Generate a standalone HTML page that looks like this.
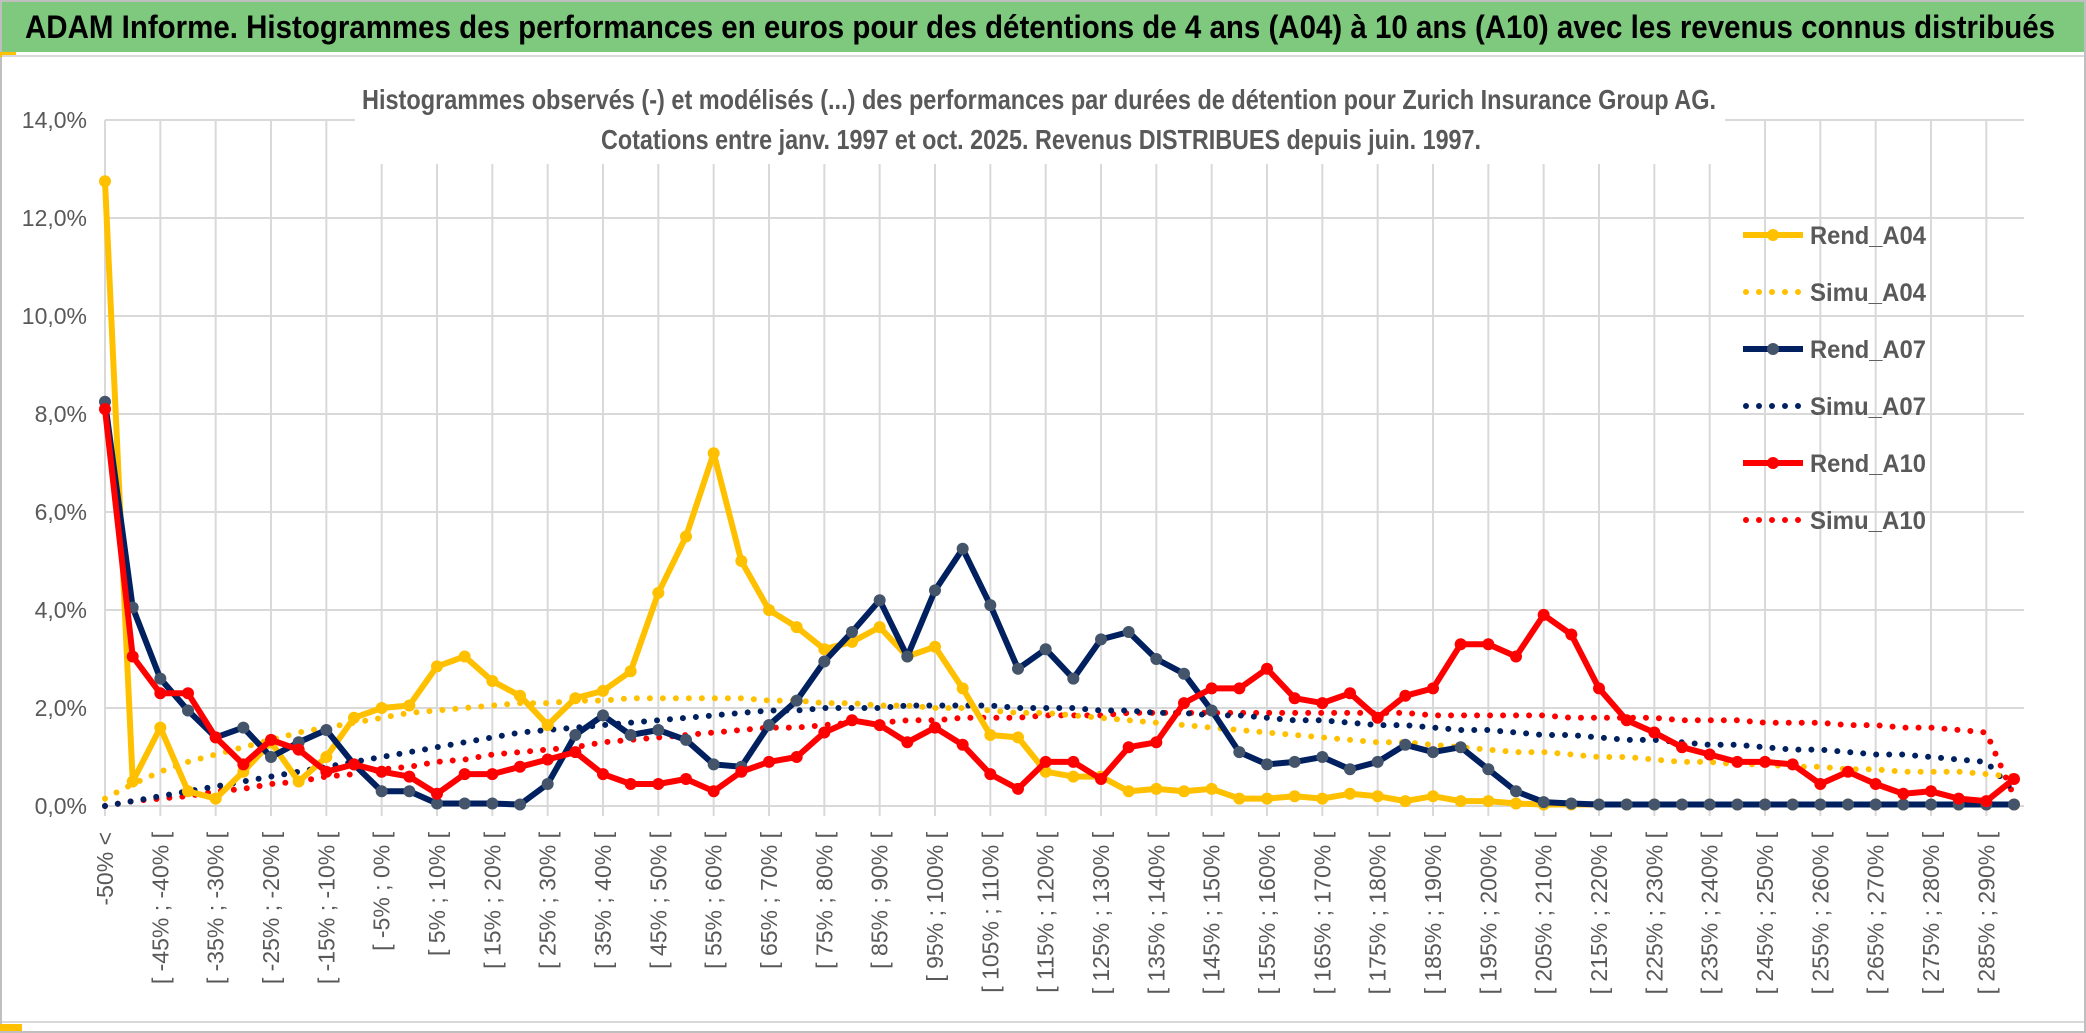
<!DOCTYPE html>
<html><head><meta charset="utf-8"><style>
html,body{margin:0;padding:0;background:#fff;}
svg{display:block;font-family:"Liberation Sans Narrow","Liberation Sans",sans-serif;}
</style></head><body>
<svg id="chart" width="2086" height="1033" viewBox="0 0 2086 1033" xmlns="http://www.w3.org/2000/svg">
<rect x="0" y="0" width="2086" height="1033" fill="#fff"/>
<rect x="1" y="1" width="2084" height="1031" fill="none" stroke="#bfbfbf" stroke-width="2"/>
<rect x="2" y="2" width="2082" height="50" fill="#7ec97e"/>
<rect x="0" y="52" width="16" height="5" fill="#ffc000"/>
<rect x="0" y="1024" width="22" height="7" fill="#ffc000"/>
<line x1="2" y1="56" x2="2084" y2="56" stroke="#d9d9d9" stroke-width="2"/>
<line x1="2" y1="1022" x2="2084" y2="1022" stroke="#d9d9d9" stroke-width="2"/>
<text x="25" y="38" font-size="32" font-weight="bold" fill="#000" textLength="2030" lengthAdjust="spacingAndGlyphs">ADAM Informe. Histogrammes des performances en euros pour des détentions de 4 ans (A04) à 10 ans (A10) avec les revenus connus distribués</text>
<g id="grid"></g>
<g id="yticks"></g>
<g id="xticks"></g>
<rect x="355" y="76" width="1370" height="88" fill="#fff"/>
<text x="362" y="109" font-size="28" font-weight="bold" fill="#595959" textLength="1354" lengthAdjust="spacingAndGlyphs">Histogrammes observés (-) et modélisés (...) des performances par durées de détention pour Zurich Insurance Group AG.</text>
<text x="601" y="149" font-size="28" font-weight="bold" fill="#595959" textLength="880" lengthAdjust="spacingAndGlyphs">Cotations entre janv. 1997 et oct. 2025. Revenus DISTRIBUES depuis juin. 1997.</text>
<g id="series"></g>
<g id="legend"></g>
</svg>
<script>
const categories = ["-50% <"];
for (let k = 0; k < 69; k++) { categories.push("[ " + (-50 + 5*k) + "% ; " + (-45 + 5*k) + "% ["); }
const yTicks = [0,2,4,6,8,10,12,14];
const yTickLabels = ["0,0%","2,0%","4,0%","6,0%","8,0%","10,0%","12,0%","14,0%"];
const rendA04 = [12.75,0.5,1.6,0.3,0.15,0.7,1.3,0.5,1.0,1.8,2.0,2.05,2.85,3.05,2.55,2.25,1.65,2.2,2.35,2.75,4.35,5.5,7.2,5.0,4.0,3.65,3.2,3.35,3.65,3.05,3.25,2.4,1.45,1.4,0.7,0.6,0.6,0.3,0.35,0.3,0.35,0.15,0.15,0.2,0.15,0.25,0.2,0.1,0.2,0.1,0.1,0.05,0.03,0.03,0.03,0.03,0.03,0.03,0.03,0.03,0.03,0.03,0.03,0.03,0.03,0.03,0.03,0.03,0.03,0.03];
const simuA04 = [0.15,0.45,0.7,0.9,1.05,1.2,1.35,1.5,1.6,1.7,1.8,1.9,1.95,2.0,2.05,2.1,2.1,2.15,2.15,2.2,2.2,2.2,2.2,2.2,2.15,2.15,2.1,2.1,2.05,2.05,2.0,2.0,1.95,1.9,1.9,1.85,1.8,1.75,1.7,1.65,1.6,1.55,1.5,1.45,1.4,1.35,1.3,1.3,1.25,1.2,1.15,1.1,1.1,1.05,1.0,1.0,0.95,0.9,0.9,0.85,0.85,0.8,0.8,0.75,0.75,0.7,0.7,0.7,0.65,0.6];
const rendA07 = [8.25,4.05,2.6,1.95,1.4,1.6,1.0,1.3,1.55,0.85,0.3,0.3,0.05,0.05,0.05,0.03,0.45,1.45,1.85,1.45,1.55,1.35,0.85,0.8,1.65,2.15,2.95,3.55,4.2,3.05,4.4,5.25,4.1,2.8,3.2,2.6,3.4,3.55,3.0,2.7,1.95,1.1,0.85,0.9,1.0,0.75,0.9,1.25,1.1,1.2,0.75,0.3,0.08,0.05,0.03,0.03,0.03,0.03,0.03,0.03,0.03,0.03,0.03,0.03,0.03,0.03,0.03,0.03,0.03,0.03];
const simuA07 = [0.0,0.1,0.2,0.3,0.4,0.5,0.6,0.7,0.8,0.9,1.0,1.1,1.2,1.3,1.4,1.5,1.55,1.6,1.65,1.7,1.75,1.8,1.85,1.9,1.95,1.95,2.0,2.0,2.0,2.05,2.05,2.05,2.05,2.0,2.0,2.0,1.95,1.95,1.9,1.9,1.85,1.85,1.8,1.75,1.75,1.7,1.65,1.65,1.6,1.55,1.55,1.5,1.45,1.45,1.4,1.35,1.35,1.3,1.25,1.25,1.2,1.15,1.15,1.1,1.05,1.05,1.0,0.95,0.9,0.3];
const rendA10 = [8.1,3.05,2.3,2.3,1.4,0.85,1.35,1.15,0.7,0.85,0.7,0.6,0.25,0.65,0.65,0.8,0.95,1.1,0.65,0.45,0.45,0.55,0.3,0.7,0.9,1.0,1.5,1.75,1.65,1.3,1.6,1.25,0.65,0.35,0.9,0.9,0.55,1.2,1.3,2.1,2.4,2.4,2.8,2.2,2.1,2.3,1.8,2.25,2.4,3.3,3.3,3.05,3.9,3.5,2.4,1.75,1.5,1.2,1.05,0.9,0.9,0.85,0.45,0.7,0.45,0.25,0.3,0.15,0.1,0.55];
const simuA10 = [0.0,0.1,0.15,0.2,0.3,0.35,0.45,0.5,0.6,0.65,0.75,0.8,0.9,0.95,1.05,1.1,1.15,1.2,1.3,1.35,1.4,1.45,1.5,1.55,1.6,1.6,1.65,1.7,1.7,1.75,1.75,1.8,1.8,1.8,1.85,1.85,1.85,1.9,1.9,1.9,1.9,1.9,1.9,1.9,1.9,1.9,1.9,1.9,1.85,1.85,1.85,1.85,1.85,1.8,1.8,1.8,1.8,1.75,1.75,1.75,1.7,1.7,1.7,1.65,1.65,1.6,1.6,1.55,1.5,0.2];

const NS = "http://www.w3.org/2000/svg";
const X0 = 105, X1 = 2014, Y0 = 806, Y14 = 120;
function xScale(i){ return X0 + (X1 - X0) * i / (categories.length - 1); }
function yScale(v){ return Y0 - (Y0 - Y14) * v / 14; }
function mk(tag, attrs, parent){ const e = document.createElementNS(NS, tag); for (const k in attrs) e.setAttribute(k, attrs[k]); parent.appendChild(e); return e; }

const grid = document.getElementById('grid');
yTicks.forEach((t) => {
  const l = mk('line', {x1: X0, x2: 2024, y1: yScale(t), y2: yScale(t), stroke: '#d9d9d9', 'stroke-width': 2}, grid);
  
  
});
for (let i = 0; i < categories.length; i += 2) {
  const l = mk('line', {x1: xScale(i), x2: xScale(i), y1: Y14, y2: Y0 + 10, stroke: '#d9d9d9', 'stroke-width': 2}, grid);
  
  
}
const yt = document.getElementById('yticks');
yTicks.forEach((t, k) => {
  const tx = mk('text', {x: 87, y: yScale(t) + 8, 'text-anchor': 'end', 'font-size': 23, fill: '#595959'}, yt);
  tx.textContent = yTickLabels[k];
  
  
});
const xt = document.getElementById('xticks');
for (let i = 0; i < categories.length; i += 2) {
  const x = xScale(i) + 8, y = 832;
  const tx = mk('text', {x: x, y: y, 'text-anchor': 'end', 'font-size': 23, fill: '#595959', transform: 'rotate(-90 ' + x + ' ' + y + ')'}, xt);
  tx.textContent = categories[i];
  
  
}

const seriesG = document.getElementById('series');
function pts(arr){ return arr.map((v, i) => xScale(i).toFixed(1) + ',' + yScale(v).toFixed(1)).join(' '); }
function dotted(arr, color, name){
  const p = mk('polyline', {points: pts(arr), fill: 'none', stroke: color, 'stroke-width': 6, 'stroke-linecap': 'round', 'stroke-dasharray': '0 13'}, seriesG);
  
  
}
function solid(arr, color, mcolor, name){
  const g = mk('g', {}, seriesG);
  
  
  mk('polyline', {points: pts(arr), fill: 'none', stroke: color, 'stroke-width': 6, 'stroke-linejoin': 'round'}, g);
  arr.forEach((v, i) => {
    const c = mk('circle', {cx: xScale(i), cy: yScale(v), r: 6, fill: mcolor}, g);
    
    
  });
}
dotted(simuA10, '#ff0000', 'simu-a10-line');
dotted(simuA07, '#002060', 'simu-a07-line');
dotted(simuA04, '#ffc000', 'simu-a04-line');
solid(rendA04, '#ffc000', '#ffc000', 'rend-a04-line');
solid(rendA07, '#002060', '#44546a', 'rend-a07-line');
solid(rendA10, '#ff0000', '#ff0000', 'rend-a10-line');

const leg = document.getElementById('legend');
const legendNames = ['Rend_A04','Simu_A04','Rend_A07','Simu_A07','Rend_A10','Simu_A10'];
const legendColors = ['#ffc000','#ffc000','#002060','#002060','#ff0000','#ff0000'];
legendNames.forEach((n, k) => {
  const y = 235 + k * 57;
  const g = mk('g', {}, leg);
  
  
  if (k % 2 === 0) {
    mk('line', {x1: 1743, x2: 1803, y1: y, y2: y, stroke: legendColors[k], 'stroke-width': 6}, g);
    mk('circle', {cx: 1773, cy: y, r: 6, fill: k === 2 ? '#44546a' : legendColors[k]}, g);
  } else {
    mk('line', {x1: 1746, x2: 1803, y1: y, y2: y, stroke: legendColors[k], 'stroke-width': 6, 'stroke-linecap': 'round', 'stroke-dasharray': '0 13'}, g);
  }
  const t = mk('text', {x: 1810, y: y + 9, 'font-size': 25, 'font-weight': 'bold', fill: '#595959', textLength: 116, lengthAdjust: 'spacingAndGlyphs'}, g);
  t.textContent = n;
});
</script>
</body></html>
